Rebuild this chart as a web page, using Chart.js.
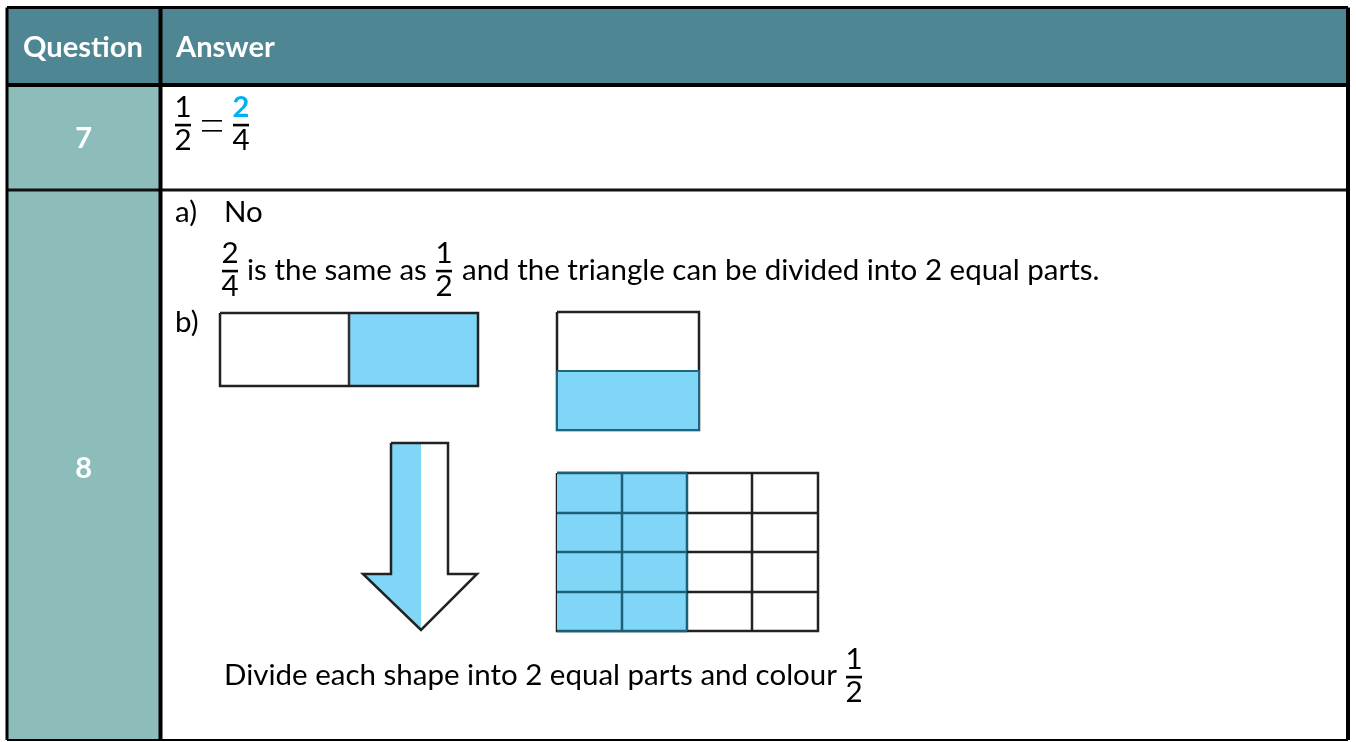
<!DOCTYPE html>
<html>
<head>
<meta charset="utf-8">
<script src="https://cdn.jsdelivr.net/npm/chart.js@4/dist/chart.umd.min.js"></script>
<style>
  html, body { margin: 0; padding: 0; background: #fff; }
  #wrap { width: 1356px; height: 742px; }
</style>
</head>
<body>
<div id="wrap"><canvas id="sheet" width="1356" height="742"></canvas></div>
<script>
// page units: x 0..1356, y 0..742 (top down)
const colEdges = [7, 160.5, 1348];
const rowEdges = [7.5, 85, 190, 740];
const headers = ["Question", "Answer"];
const questions = ["7", "8"];

const headerColor = "#4f8693";
const questionColor = "#8dbdbb";
const shadeColor = "#80d6f6";
const inkColor = "#222222";

// shapes for question 8 b)
const barOutline = [[220, 313], [478, 313], [478, 386], [220, 386]];
const barShade = [[349, 313], [478, 313], [478, 386], [349, 386]];
const barDivider = [[349, 313], [349, 386]];

const boxOutline = [[557, 312], [699, 312], [699, 430], [557, 430]];
const boxShade = [[557, 371], [699, 371], [699, 430], [557, 430]];

const arrowOutline = [[391, 443], [448, 443], [448, 574], [477, 574], [421, 630], [363, 574], [391, 574]];
const arrowShade = [[391, 443], [421, 443], [421, 630], [363, 574], [391, 574]];

const gridCols = [557, 622, 687, 752, 818];
const gridRows = [473, 513, 552, 592, 631];
const gridShadedCols = 2;

// answer texts
const lineA = ["a)", "No"];
const lineA2 = ["is the same as", "and the triangle can be divided into 2 equal parts."];
const lineB = "b)";
const lineLast = "Divide each shape into 2 equal parts and colour";

const datasets = [];

function pts(list) {
  return list.map((p) => ({ x: p[0], y: p[1] }));
}

function addShape(list, fillColor, lineColor, width) {
  const closed = list.concat([list[0]]);
  datasets.push({
    data: pts(closed),
    borderColor: lineColor || "rgba(0,0,0,0)",
    borderWidth: width || 0,
    backgroundColor: fillColor || "rgba(0,0,0,0)",
    fill: fillColor ? "shape" : false,
  });
}

function addLine(list, lineColor, width) {
  datasets.push({
    data: pts(list),
    borderColor: lineColor,
    borderWidth: width,
    fill: false,
  });
}

// table cells
addShape([[colEdges[0], rowEdges[0]], [colEdges[2], rowEdges[0]], [colEdges[2], rowEdges[1]], [colEdges[0], rowEdges[1]]], headerColor);
for (let r = 1; r < rowEdges.length - 1; r++) {
  addShape([[colEdges[0], rowEdges[r]], [colEdges[1], rowEdges[r]], [colEdges[1], rowEdges[r + 1]], [colEdges[0], rowEdges[r + 1]]], questionColor);
}

// table rules
addLine([[colEdges[0], rowEdges[0]], [colEdges[2], rowEdges[0]]], "#000", 3);
addLine([[colEdges[0], rowEdges[1]], [colEdges[2], rowEdges[1]]], "#000", 4);
addLine([[colEdges[0], rowEdges[2]], [colEdges[2], rowEdges[2]]], "#111", 3);
addLine([[colEdges[0], rowEdges[3]], [colEdges[2], rowEdges[3]]], "#000", 2);
addLine([[colEdges[0], rowEdges[0]], [colEdges[0], rowEdges[3]]], "#000", 3);
addLine([[colEdges[1], rowEdges[0]], [colEdges[1], rowEdges[3]]], "#000", 4);
addLine([[colEdges[2], rowEdges[0]], [colEdges[2], rowEdges[3]]], "#000", 4);

// half bar
addShape(barShade, shadeColor);
addLine(barDivider, "#333", 2.5);
addShape(barOutline, null, inkColor, 2.5);

// box
addShape(boxOutline, null, inkColor, 2.5);
addShape(boxShade, shadeColor, "#1d6680", 2);

// arrow
addShape(arrowShade, shadeColor);
addShape(arrowOutline, null, inkColor, 2.5);

// grid
addShape([[gridCols[0], gridRows[0]], [gridCols[gridCols.length - 1], gridRows[0]],
  [gridCols[gridCols.length - 1], gridRows[gridRows.length - 1]], [gridCols[0], gridRows[gridRows.length - 1]]], null, inkColor, 2.5);
addShape([[gridCols[0], gridRows[0]], [gridCols[gridShadedCols], gridRows[0]],
  [gridCols[gridShadedCols], gridRows[gridRows.length - 1]], [gridCols[0], gridRows[gridRows.length - 1]]], shadeColor);
for (let i = 1; i < gridCols.length - 1; i++) {
  addLine([[gridCols[i], gridRows[0]], [gridCols[i], gridRows[gridRows.length - 1]]], i <= gridShadedCols ? "#1d5f76" : inkColor, 2.5);
}
for (let j = 1; j < gridRows.length - 1; j++) {
  addLine([[gridCols[0], gridRows[j]], [gridCols[gridShadedCols], gridRows[j]]], "#1d5f76", 2.5);
  addLine([[gridCols[gridShadedCols], gridRows[j]], [gridCols[gridCols.length - 1], gridRows[j]]], inkColor, 2.5);
}
addLine([[gridCols[0], gridRows[0]], [gridCols[gridShadedCols], gridRows[0]]], "#1d5f76", 2.5);
addLine([[gridCols[0], gridRows[gridRows.length - 1]], [gridCols[gridShadedCols], gridRows[gridRows.length - 1]]], "#1d5f76", 2.5);

datasets.forEach((d, i) => {
  d.order = -i;
  d.pointRadius = 0;
  d.tension = 0;
  d.clip = false;
});

const textPlugin = {
  id: "sheetText",
  afterDatasetsDraw(chart) {
    const { ctx, scales } = chart;
    const px = (v) => scales.x.getPixelForValue(v);
    const py = (v) => scales.y.getPixelForValue(v);

    ctx.save();
    ctx.font = "100px Lato";
    const body = (100 * 614) / ctx.measureText(lineLast).width;
    ctx.font = "bold 100px Lato";
    const bold = (100 * 120) / ctx.measureText(headers[0]).width;
    const bodyFont = body.toFixed(1) + "px Lato";
    const boldFont = "bold " + bold.toFixed(1) + "px Lato";

    function text(str, x, y, font, color, align) {
      ctx.font = font;
      ctx.fillStyle = color;
      ctx.textAlign = align || "left";
      ctx.textBaseline = "alphabetic";
      ctx.fillText(str, px(x), py(y));
    }

    function frac(num, den, cx, barY, numColor, numFont) {
      text(num, cx, barY - 8, numFont || bodyFont, numColor || "#000", "center");
      text(den, cx, barY + 25, bodyFont, "#000", "center");
      ctx.fillStyle = "#000";
      ctx.fillRect(px(cx - 8), py(barY - 1.2), px(cx + 8) - px(cx - 8), 2.6);
    }

    // header
    text(headers[0], 23, 57, boldFont, "#fff");
    text(headers[1], 176, 57, boldFont, "#fff");

    // question numbers
    const midX = (colEdges[0] + colEdges[1]) / 2;
    text(questions[0], midX, 148, boldFont, "#fff", "center");
    text(questions[1], midX, 478, boldFont, "#fff", "center");

    // question 7
    frac("1", "2", 183, 125);
    ctx.fillStyle = "#000";
    ctx.fillRect(px(202), py(120), px(222) - px(202), 1.6);
    ctx.fillRect(px(202), py(130), px(222) - px(202), 1.6);
    frac("2", "4", 241, 125, "#00b0f0", boldFont);

    // question 8
    text(lineA[0], 175, 222, bodyFont, "#000");
    text(lineA[1], 224, 222, bodyFont, "#000");
    frac("2", "4", 230, 271);
    text(lineA2[0], 247, 280, bodyFont, "#000");
    frac("1", "2", 444, 271);
    text(lineA2[1], 462, 280, bodyFont, "#000");
    text(lineB, 175, 332, bodyFont, "#000");
    text(lineLast, 224, 685, bodyFont, "#000");
    frac("1", "2", 854, 677);
    ctx.restore();
  },
};

new Chart(document.getElementById("sheet"), {
  type: "line",
  data: { datasets: datasets },
  options: {
    responsive: false,
    animation: false,
    parsing: true,
    layout: { padding: 0 },
    scales: {
      x: { type: "linear", min: 0, max: 1356, display: false },
      y: { type: "linear", min: 0, max: 742, reverse: true, display: false },
    },
    plugins: {
      legend: { display: false },
      tooltip: { enabled: false },
    },
  },
  plugins: [textPlugin],
});
</script>
</body>
</html>
